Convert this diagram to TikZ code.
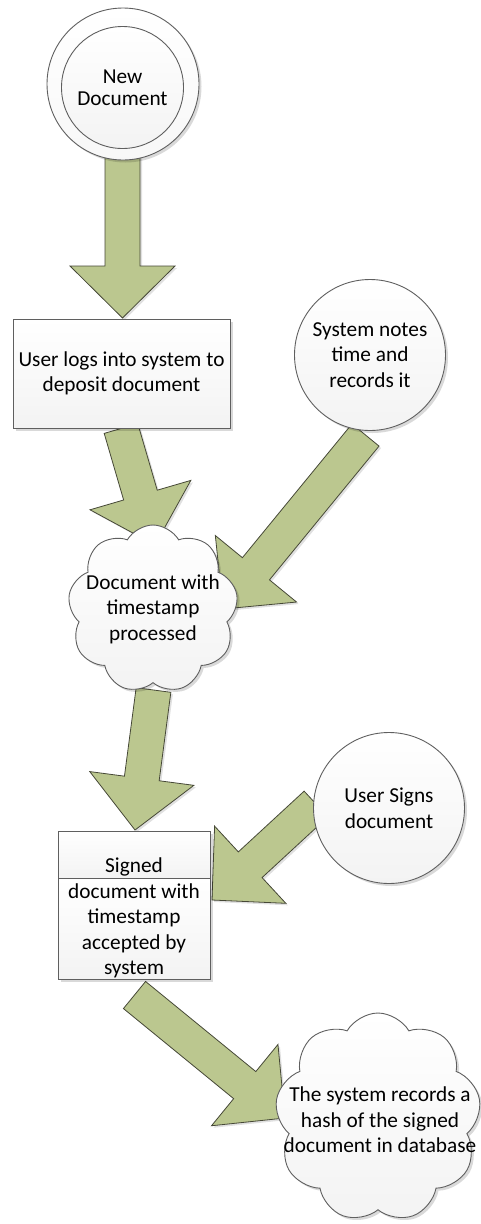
\documentclass[tikz,border=0pt]{standalone}
\usepackage{fontspec}
\setmainfont{Carlito}
\usetikzlibrary{calc,shapes.symbols,shadows}
\pgfdeclarelayer{background}
\pgfsetlayers{background,main}
\definecolor{arrfill}{RGB}{187,199,143}
\definecolor{arrline}{RGB}{70,72,55}
\definecolor{nodeline}{RGB}{95,95,95}
\definecolor{nodebot}{RGB}{243,243,243}
\tikzset{
  nodeshade/.style={top color=white, bottom color=nodebot, draw=nodeline, line width=0.9pt,
    drop shadow={shadow xshift=2.5pt, shadow yshift=-2.5pt, opacity=0.15, fill=black}},
  plainshade/.style={top color=white, bottom color=nodebot, draw=nodeline, line width=0.9pt},
  txt/.style={align=center, font=\fontsize{21.3}{25.5}\selectfont, inner sep=0pt},
  blockarr/.style={fill=arrfill, draw=arrline, line width=0.8pt, line join=miter,
    drop shadow={shadow xshift=2pt, shadow yshift=-2pt, opacity=0.12, fill=black}},
  cloudbox/.style={cloud, cloud puffs=9, cloud puff arc=120, cloud ignores aspect, inner sep=0pt, nodeshade}
}
\newcommand\blockarrow[2]{%
  \coordinate (bh) at ($(#2)!52pt!(#1)$);
  \path[blockarr] ($(#1)!17.5pt!90:(#2)$) -- ($(bh)!17.5pt!90:(#2)$) -- ($(bh)!52.5pt!90:(#2)$)
    -- (#2) -- ($(bh)!52.5pt!-90:(#2)$) -- ($(bh)!17.5pt!-90:(#2)$) -- ($(#1)!17.5pt!-90:(#2)$) -- cycle;
}
\begin{document}
\begin{tikzpicture}[x=1pt,y=-1pt]
\useasboundingbox (0,0) rectangle (481,1224);
% nodes
\node[circle, minimum size=152pt, inner sep=0pt, nodeshade, bottom color=white!97!black] (newout) at (123,84) {};
\node[circle, minimum size=122pt, inner sep=0pt, plainshade, txt, font=\fontsize{21.3}{21.5}\selectfont] (new) at (122.5,87.5) {New\\Document};
\node[rectangle, minimum width=217pt, minimum height=109pt, nodeshade, txt] (login) at (121.5,373.5) {User logs into system to\\deposit document};
\node[circle, minimum size=151pt, inner sep=0pt, nodeshade, txt] (notes) at (370,355) {System notes\\time and\\records it};
\node[cloudbox, minimum width=170pt, minimum height=168pt] (cloud1) at (153,609) {};
\node[txt] (cloud1t) at (153,609) {Document with\\timestamp\\processed};
\node[rectangle, minimum width=152pt, minimum height=47pt, nodeshade] (signtop) at (134,854.5) {};
\node[rectangle, minimum width=152pt, minimum height=101pt, nodeshade] (signbox) at (134,928.5) {};
\node[txt] (signt) at (134,918) {Signed\\document with\\timestamp\\accepted by\\system};
\node[circle, minimum size=151pt, inner sep=0pt, nodeshade, txt] (usersign) at (389,808) {User Signs\\document};
\node[cloudbox, minimum width=206pt, minimum height=209pt] (cloud2) at (378,1117.5) {};
\node[txt] (cloud2t) at (380,1120) {The system records a\\hash of the signed\\document in database};
% arrow end points
\coordinate (a1s) at (122.5,150); \coordinate (a1e) at (122.5,318);
\coordinate (a2s) at (121,428.5); \coordinate (a2e) at (155,545);
\coordinate (a3s) at (365.5,435); \coordinate (a3e) at (223,609);
\coordinate (a4s) at (153.5,690); \coordinate (a4e) at (135,830);
\coordinate (a5s) at (316,804); \coordinate (a5e) at (212,900);
\coordinate (a6s) at (134.5,995); \coordinate (a6e) at (285,1118);
\begin{pgfonlayer}{background}
\blockarrow{a1s}{a1e}
\blockarrow{a2s}{a2e}
\blockarrow{a3s}{a3e}
\blockarrow{a4s}{a4e}
\blockarrow{a5s}{a5e}
\blockarrow{a6s}{a6e}
\end{pgfonlayer}
\end{tikzpicture}
\end{document}
